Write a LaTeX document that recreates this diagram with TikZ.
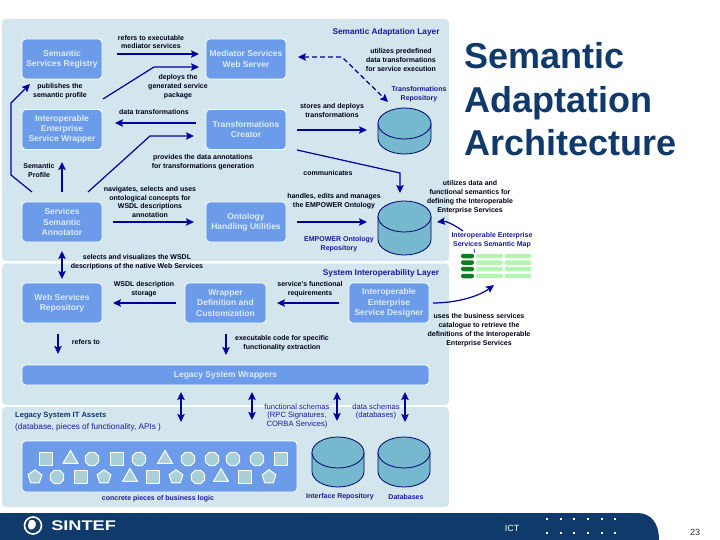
\documentclass[tikz,border=0pt]{standalone}
\usepackage{fontspec}
\setmainfont{Liberation Sans}
\usetikzlibrary{arrows.meta,shapes.geometric}
\definecolor{panelc}{HTML}{D3E6EE}
\definecolor{boxc}{HTML}{6C9BEA}
\definecolor{boxt}{HTML}{DCEBF5}
\definecolor{arrowc}{HTML}{0000A0}
\definecolor{bluet}{HTML}{1A1A9A}
\definecolor{navy}{HTML}{0F3A6B}
\definecolor{cylc}{HTML}{76B9CE}
\definecolor{shapec}{HTML}{A9CFD8}
\definecolor{pilld}{HTML}{0F7F1E}
\definecolor{pilll}{HTML}{B4F5B4}
\tikzset{
 panel/.style={fill=panelc,draw=none,rounded corners=4pt},
 bx/.style={fill=boxc,draw=white,line width=0.9pt,rounded corners=3.5pt,inner sep=0pt,text=boxt,align=center,
   font=\fontsize{8.5}{10.2}\selectfont\bfseries},
 lab/.style={align=center,inner sep=0pt,text=black!90!blue,font=\fontsize{7}{8.8}\selectfont\bfseries},
 blab/.style={align=center,inner sep=0pt,text=bluet,font=\fontsize{7}{8.8}\selectfont\bfseries},
 lay/.style={align=center,inner sep=0pt,text=bluet,font=\fontsize{8.3}{10}\selectfont\bfseries},
 arr/.style={draw=arrowc,line width=1.2pt,-{Stealth[length=8pt,width=7.5pt,inset=1.5pt]}},
 darr/.style={draw=arrowc,line width=1.2pt,{Stealth[length=8pt,width=7.5pt,inset=1.5pt]}-{Stealth[length=8pt,width=7.5pt,inset=1.5pt]}},
 title/.style={anchor=base west,inner sep=0pt,text=navy,font=\fontsize{36}{40}\selectfont\bfseries},
 shp/.style={fill=shapec,draw=white,line width=1pt,inner sep=0pt},
 sq/.style={shp,rectangle,minimum size=12.5pt},
 tri/.style={shp,regular polygon,regular polygon sides=3,minimum size=17pt},
 pen/.style={shp,regular polygon,regular polygon sides=5,minimum size=14.5pt},
 oct/.style={shp,regular polygon,regular polygon sides=8,minimum size=14.5pt},
 cyl/.style={fill=cylc,draw=arrowc!70!black,line width=0.8pt},
 pd/.style={fill=pilld,draw=none,rounded corners=2pt,minimum width=13pt,minimum height=4.5pt,inner sep=0pt},
 pl/.style={fill=pilll,draw=none,rounded corners=2pt,minimum width=27pt,minimum height=4.5pt,inner sep=0pt},
 dot/.style={fill=white,draw=none,minimum size=2.4pt,inner sep=0pt,rectangle},
}
\newcommand{\mycyl}[4]{% x1 x2 ytop ybottom
  \pgfmathsetmacro{\cxm}{(#1+#2)/2}
  \pgfmathsetmacro{\crx}{(#2-#1)/2}
  \draw[cyl] (#1,#3+15.5) -- (#1,#4-15.5) arc[start angle=180,end angle=0,x radius=\crx,y radius=15.5]
     -- (#2,#3+15.5) -- cycle;
  \draw[cyl] (\cxm,#3+15.5) ellipse[x radius=\crx,y radius=15.5];
}
\begin{document}
\begin{tikzpicture}[x=1pt,y=-1pt]
\useasboundingbox (0,0) rectangle (720,540);
% layers
\path[panel] (2,19) rectangle (449,261);
\path[panel] (2,263.5) rectangle (449,405);
\path[panel] (2,407) rectangle (449,507);
% footer
\fill[navy] (0,513) -- (637,513) .. controls (651,513) and (659,523) .. (659,540) -- (0,540) -- cycle;
% boxes
\node[bx,minimum width=80pt,minimum height=40pt] (reg) at (62,59) {Semantic\\Services Registry};
\node[bx,minimum width=80pt,minimum height=40pt] (med) at (246,59) {Mediator Services\\Web Server};
\node[bx,minimum width=80pt,minimum height=40pt] (wrap) at (62,129.5) {Interoperable\\Enterprise\\Service Wrapper};
\node[bx,minimum width=80pt,minimum height=40pt] (tcr) at (246,129.5) {Transformations\\Creator};
\node[bx,minimum width=80pt,minimum height=40pt] (ann) at (62,222) {Services\\Semantic\\Annotator};
\node[bx,minimum width=80pt,minimum height=40pt] (ont) at (246,222) {Ontology\\Handling Utilities};
\node[bx,minimum width=80pt,minimum height=40pt] (wsr) at (62,303) {Web Services\\Repository};
\node[bx,minimum width=81pt,minimum height=40pt] (wdc) at (225.5,303) {Wrapper\\Definition and\\Customization};
\node[bx,minimum width=80pt,minimum height=40pt] (des) at (389,303) {Interoperable\\Enterprise\\Service Designer};
\node[bx,minimum width=407pt,minimum height=20pt] (lsw) at (225.5,375) {Legacy System Wrappers};
\node[fill=boxc,draw=white,line width=0.9pt,rounded corners=3.5pt,minimum width=275pt,minimum height=51pt,inner sep=0pt] (biz) at (159.5,466.5) {};
% shapes
\foreach \k/\st/\xx in {1/sq/46,2/tri/70.5,3/oct/92,4/sq/117,5/oct/139,6/tri/165,7/oct/188,8/oct/212,9/oct/233,10/oct/257,11/sq/281}
  \node[\st] (ra\k) at (\xx,459) {};
\foreach \k/\st/\xx in {1/pen/35,2/oct/57,3/sq/81,4/pen/104,5/tri/130,6/sq/153,7/pen/176,8/oct/198,9/tri/221,10/sq/245,11/pen/269}
  \node[\st] (rb\k) at (\xx,477) {};
% cylinders
\mycyl{378}{431}{108}{154}
\mycyl{378}{431}{201}{255}
\mycyl{312}{364}{437}{487}
\mycyl{378}{430}{437}{487}
% semantic map
\foreach \k/\yy in {1/256,2/262.5,3/269,4/276}{
  \node[pd] (m\k a) at (467.5,\yy) {};
  \node[pl] (m\k b) at (489.5,\yy) {};
  \node[pl] (m\k c) at (518,\yy) {};
}
\coordinate (mapl) at (463,231);
\coordinate (mapb) at (494,285);
\draw[arrowc,line width=0.7pt] (474,249) -- (474.5,252.5);
% arrow ends
\coordinate (a1s) at (117,54); \coordinate (a1e) at (199,54);
\coordinate (a2s) at (103,99); \coordinate (a2m) at (154,67); \coordinate (a2e) at (199,67);
\coordinate (a3s) at (32,192); \coordinate (a3m) at (11,175); \coordinate (a3n) at (11,103); \coordinate (a3e) at (30,84);
\coordinate (a4s) at (196,123); \coordinate (a4e) at (115,123);
\coordinate (a5s) at (88,192); \coordinate (a5m) at (150,136); \coordinate (a5e) at (194,136);
\coordinate (a6s) at (62,192); \coordinate (a6e) at (62,162);
\coordinate (a7s) at (113,222); \coordinate (a7e) at (194,222);
\coordinate (a8s) at (62,251); \coordinate (a8e) at (62,279);
\coordinate (a9s) at (298,57); \coordinate (a9m) at (342,57); \coordinate (a9e) at (388,102);
\coordinate (a10s) at (297,130); \coordinate (a10e) at (367,130);
\coordinate (a11s) at (297,150); \coordinate (a11m) at (400,173); \coordinate (a11e) at (400,193);
\coordinate (a12s) at (297,222); \coordinate (a12e) at (367,222);
\coordinate (a13e) at (437,222);
\coordinate (a14s) at (433,303);
\coordinate (a15s) at (176,303); \coordinate (a15e) at (113,303);
\coordinate (a16s) at (339,303); \coordinate (a16e) at (277,303);
\coordinate (a17s) at (58,334); \coordinate (a17e) at (58,354);
\coordinate (a18s) at (226,334); \coordinate (a18e) at (226,355);
\coordinate (a19s) at (181,392); \coordinate (a19e) at (181,422);
\coordinate (a20s) at (252,392); \coordinate (a20e) at (252,420);
\coordinate (a21s) at (337,392); \coordinate (a21e) at (337,421);
\coordinate (a22s) at (405,392); \coordinate (a22e) at (405,422);
% arrows
\draw[arr] (a1s) -- (a1e);
\draw[arr] (a2s) -- (a2m) -- (a2e);
\draw[arr] (a3s) -- (a3m) -- (a3n) -- (a3e);
\draw[arr] (a4s) -- (a4e);
\draw[arr] (a5s) -- (a5m) -- (a5e);
\draw[arr] (a6s) -- (a6e);
\draw[arr] (a7s) -- (a7e);
\draw[darr] (a8s) -- (a8e);
\draw[darr,dash pattern=on 5pt off 3pt] (a9s) -- (a9m) -- (a9e);
\draw[arr] (a10s) -- (a10e);
\draw[arr] (a11s) -- (a11m) -- (a11e);
\draw[arr] (a12s) -- (a12e);
\draw[arr] (mapl) .. controls (453,224) and (446,221) .. (a13e);
\draw[arr] (a14s) .. controls (455,303) and (478,297) .. (mapb);
\draw[arr] (a15s) -- (a15e);
\draw[arr] (a16s) -- (a16e);
\draw[arr] (a17s) -- (a17e);
\draw[arr] (a18s) -- (a18e);
\draw[darr] (a19s) -- (a19e);
\draw[darr] (a20s) -- (a20e);
\draw[darr] (a21s) -- (a21e);
\draw[darr] (a22s) -- (a22e);
% labels
\node[lab] (t1) at (151,42) {refers to executable\\mediator services};
\node[lab] (t2) at (60,91) {publishes the\\semantic profile};
\node[lab] (t3) at (178,87) {deploys the\\generated service\\package};
\node[lab] (t4) at (154,112) {data transformations};
\node[lab] (t5) at (39,170.5) {Semantic\\Profile};
\node[lab] (t6) at (203,162.5) {provides the data annotations\\for transformations generation};
\node[lab] (t7) at (150,202) {navigates, selects and uses\\ontological concepts for\\WSDL descriptions\\annotation};
\node[lab] (t8) at (137,262.5) {selects and visualizes the WSDL\\descriptions of the native Web Services};
\node[lay] (t9) at (386,32) {Semantic Adaptation Layer};
\node[lab] (t10) at (401,60) {utilizes predefined\\data transformations\\for service execution};
\node[blab] (t11) at (419,94.5) {Transformations\\Repository};
\node[lab] (t12) at (332,110.5) {stores and deploys\\transformations};
\node[lab] (t13) at (328,173) {communicates};
\node[lab] (t14) at (334,201) {handles, edits and manages\\the EMPOWER Ontology};
\node[blab] (t15) at (339,244) {EMPOWER Ontology\\Repository};
\node[lab] (t16) at (470,197) {utilizes data and\\functional semantics for\\defining the Interoperable\\Enterprise Services};
\node[blab] (t17) at (492,240.5) {Interoperable Enterprise\\Services Semantic Map};
\node[lab] (t18) at (479,330) {uses the business services\\catalogue to retrieve the\\definitions of the Interoperable\\Enterprise Services};
\node[lay] (t19) at (381,273) {System Interoperability Layer};
\node[lab] (t20) at (144,289) {WSDL description\\storage};
\node[lab] (t21) at (310,289) {service's functional\\requirements};
\node[lab] (t22) at (86,342) {refers to};
\node[lab] (t23) at (282,343) {executable code for specific\\functionality extraction};
\node[lay,anchor=west,text=navy,font=\fontsize{7.6}{9}\selectfont\bfseries] (t24) at (15,416) {Legacy System IT Assets};
\node[lay,anchor=west,font=\fontsize{8.2}{9}\selectfont] (t25) at (15,427) {(database, pieces of functionality, APIs )};
\node[blab,font=\fontsize{7.6}{8.6}\selectfont] (t26) at (297,416) {functional schemas\\(RPC Signatures,\\CORBA Services)};
\node[blab,font=\fontsize{7.6}{8.6}\selectfont] (t27) at (376,411.5) {data schemas\\(databases)};
\node[blab] (t28) at (158,499) {concrete pieces of business logic};
\node[blab] (t29) at (340,497) {Interface Repository};
\node[blab] (t30) at (406,497) {Databases};
% title
\node[title] (tt1) at (464,69) {Semantic};
\node[title] (tt2) at (464,113) {Adaptation};
\node[title] (tt3) at (464,156) {Architecture};
% footer content
\node[circle,draw=white,line width=1.6pt,minimum size=17pt,inner sep=0pt] (logo) at (33,525.5) {};
\fill[white] (30,520) .. controls (36,519) and (37,524) .. (35,527) .. controls (33,531) and (28,530) .. (28,526) .. controls (28,523) and (29,522) .. (30,520) -- cycle;
\node[anchor=west,inner sep=0pt,text=white,xscale=1.3,font=\fontsize{14}{14}\selectfont\bfseries] (sintef) at (51,526) {SINTEF};
\node[inner sep=0pt,text=white,font=\fontsize{9}{10}\selectfont] (ict) at (512,528) {ICT};
\node[inner sep=0pt,text=black!85,font=\fontsize{9}{10}\selectfont] (pg) at (695,532.5) {23};
\foreach \k/\xx in {1/547,2/561,3/574,4/588,5/602,6/615}{
  \node[dot] (da\k) at (\xx,519) {};
  \node[dot] (db\k) at (\xx,533) {};
}
\end{tikzpicture}
\end{document}
